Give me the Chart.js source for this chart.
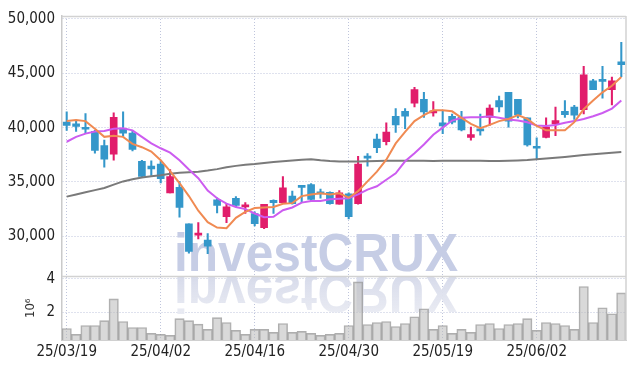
<!DOCTYPE html>
<html><head><meta charset="utf-8">
<script src="https://cdn.jsdelivr.net/npm/chart.js@4"></script>
<style>html,body{margin:0;padding:0;background:#fff;}#wrap{width:635px;height:369px;}</style>
</head><body><div id="wrap"><canvas id="c" width="635" height="369"></canvas></div>
<script>
const dates = ['25/03/19','25/03/20','25/03/21','25/03/24','25/03/25','25/03/26','25/03/27','25/03/28','25/03/31','25/04/01',
 '25/04/02','25/04/03','25/04/04','25/04/07','25/04/08','25/04/09','25/04/10','25/04/11','25/04/14','25/04/15',
 '25/04/16','25/04/17','25/04/18','25/04/21','25/04/22','25/04/23','25/04/24','25/04/25','25/04/28','25/04/29',
 '25/04/30','25/05/02','25/05/07','25/05/08','25/05/09','25/05/12','25/05/13','25/05/14','25/05/15','25/05/16',
 '25/05/19','25/05/20','25/05/21','25/05/22','25/05/23','25/05/26','25/05/27','25/05/28','25/05/29','25/05/30',
 '25/06/02','25/06/04','25/06/05','25/06/09','25/06/10','25/06/11','25/06/12','25/06/13','25/06/16','25/06/17'];
const opens = [40500,40350,39900,39650,38350,37550,39850,39500,36900,36450,
 36650,34000,34500,31150,30100,29650,33350,31800,33500,32700,
 32100,30800,33300,33100,33700,34600,34750,34050,34050,32950,
 33900,33000,37350,38950,38700,41050,41500,42250,42600,41350,
 40450,41050,40950,39100,39900,40950,42500,43250,42600,40900,
 38150,39100,40350,41500,41900,41650,44300,44400,43500,46050];
const highs = [41450,40600,41300,39750,38850,41350,41450,39650,37000,36950,
 36900,36150,35050,31150,31250,30250,33550,32950,33650,33100,
 32250,32950,33350,35500,34150,34600,34850,34350,34100,34200,
 34000,37350,37600,39400,40450,41750,41750,43700,43250,42400,
 41500,41250,41500,40050,41250,42100,42900,43250,42600,40900,
 39050,40900,41900,42500,42050,45650,44450,45650,44650,47850];
const lows = [39750,39650,39450,37650,36350,37000,39200,37850,35450,35600,
 34900,34000,31750,28450,29750,28400,32150,31250,32700,32100,
 30950,30700,32100,33050,32950,33100,33250,33500,32950,32950,
 31600,32950,36450,37700,38400,39550,39900,41900,40950,41050,
 39450,40350,39700,38850,39300,40200,41450,40050,40900,38300,
 37050,39050,39250,40950,40750,41250,43500,42700,42100,44700];
const closes = [40200,40100,39850,37900,37100,40950,39500,38000,35500,36200,
 35300,35500,32650,28600,30250,29100,32850,32700,32850,32900,
 31150,32950,33100,34450,33000,34500,33400,33900,33000,34000,
 31800,36650,37200,38150,39600,40250,41050,43500,41450,41400,
 40150,40500,39800,39350,39700,41800,41900,40600,41200,38400,
 38100,40050,40650,41200,41150,44850,43500,44250,44300,45800];
const ma5 = [40600,40700,40600,39900,39150,39250,39150,38500,38200,37800,
 37000,36000,34900,33700,32350,31300,30800,30750,31700,32250,
 32600,32650,32700,33000,33050,33700,33850,33950,33850,33950,
 33550,34150,35050,35950,37050,38550,39600,40600,41150,41600,
 41600,41500,40900,40350,39950,40250,40600,40800,41150,40800,
 40150,39750,39750,39750,40500,41700,42500,43250,43850,44650];
const ma20 = [38700,39150,39450,39650,39700,39900,39950,39750,39150,38550,
 38100,37700,37000,36150,35350,34200,33500,33000,32700,32500,
 32100,31750,31800,32400,32650,33100,33250,33250,33400,33450,
 33500,33850,34300,34600,35200,35800,36900,37650,38450,39350,
 40000,40650,40900,40950,40950,41050,40900,40750,40650,40500,
 40200,40150,40250,40450,40600,40800,41050,41350,41750,42500];
const ma60 = [33650,33850,34050,34250,34450,34750,35050,35250,35400,35520,
 35620,35750,35850,35900,35950,36050,36180,36350,36480,36580,
 36650,36750,36830,36900,36980,37050,37100,37000,36920,36880,
 36880,36880,36900,36920,36940,36950,36950,36950,36940,36930,
 36940,36950,36950,36950,36940,36930,36930,36950,36980,37020,
 37080,37150,37230,37300,37380,37470,37550,37620,37680,37750];
const volumes = [1.01,0.66,1.19,1.19,1.49,2.79,1.43,1.07,1.07,0.72,
 0.66,0.60,1.61,1.49,1.27,0.96,1.67,1.37,0.90,0.66,
 0.96,0.96,0.78,1.31,0.78,0.84,0.72,0.60,0.66,0.72,
 1.19,3.82,1.25,1.37,1.43,1.13,1.31,1.72,2.20,0.96,
 1.19,0.72,0.96,0.78,1.25,1.31,1.01,1.25,1.31,1.61,
 0.90,1.37,1.31,1.19,0.96,3.54,1.37,2.26,1.90,3.15];
const priceTicks = [30000,35000,40000,45000,50000];
const volumeTicks = [2,4];
const xTickEvery = 10;

const RED = '#e11d6b', BLUE = '#3497ca';
const candleColor = c => closes[c.dataIndex] >= opens[c.dataIndex] ? RED : BLUE;
const GRID = '#bfc5dc';
const FONT = '"Liberation Sans Narrow","DejaVu Sans Condensed",Arial,sans-serif';

const watermark = {
  id: 'wm',
  beforeDatasetsDraw(chart) {
    const ctx = chart.ctx, a = chart.chartArea;
    const text = 'investCRUX';
    ctx.save();
    ctx.font = 'bold 53px "Liberation Sans",Arial,sans-serif';
    const w = ctx.measureText(text).width;
    const sx = 284 / w;
    const cx = 316, base = 271, axis = 273;
    ctx.textAlign = 'center'; ctx.textBaseline = 'alphabetic';
    ctx.save();
    ctx.translate(cx, base); ctx.scale(sx, 1);
    ctx.fillStyle = '#c6cde5';
    ctx.fillText(text, 0, 0);
    ctx.restore();
    ctx.save();
    ctx.beginPath(); ctx.rect(a.left, chart.scales.yv.top, a.width, chart.scales.yv.height); ctx.clip();
    ctx.translate(cx, 2 * axis - base); ctx.scale(sx, -1);
    const g = ctx.createLinearGradient(0, 0, 0, -40);
    g.addColorStop(0, 'rgba(214,218,234,1)');
    g.addColorStop(1, 'rgba(232,234,242,0.9)');
    ctx.fillStyle = g;
    ctx.fillText(text, 0, 0);
    ctx.restore();
    ctx.restore();
  },
  afterDraw(chart) {
    const ctx = chart.ctx, a = chart.chartArea, yv = chart.scales.yv;
    ctx.save();
    ctx.strokeStyle = '#d2d2d2'; ctx.lineWidth = 1.5;
    ctx.beginPath();
    ctx.moveTo(a.left, a.top + 0.5); ctx.lineTo(a.right, a.top + 0.5);
    ctx.moveTo(a.right, a.top); ctx.lineTo(a.right, a.bottom);
    ctx.moveTo(a.left, yv.top); ctx.lineTo(a.right, yv.top);
    ctx.stroke();
    ctx.restore();
  }
};

new Chart(document.getElementById('c'), {
  data: {
    labels: dates,
    datasets: [
      { type: 'line', label: 'MA5', data: ma5, yAxisID: 'y', borderColor: '#f08a52', borderWidth: 2, pointRadius: 0, order: 0 },
      { type: 'line', label: 'MA20', data: ma20, yAxisID: 'y', borderColor: '#cc5cf0', borderWidth: 2, pointRadius: 0, order: 0 },
      { type: 'line', label: 'MA60', data: ma60, yAxisID: 'y', borderColor: '#7a7a7a', borderWidth: 2, pointRadius: 0, order: 0 },
      { type: 'bar', label: 'body', data: opens.map((o, i) => [Math.min(o, closes[i]), Math.max(o, closes[i])]), yAxisID: 'y',
        backgroundColor: candleColor, barThickness: 7, minBarLength: 2, grouped: false, order: 1 },
      { type: 'bar', label: 'wick', data: lows.map((l, i) => [l, highs[i]]), yAxisID: 'y',
        backgroundColor: candleColor, barThickness: 1.4, grouped: false, order: 2 },
      { type: 'bar', label: 'volume', data: volumes, yAxisID: 'yv',
        backgroundColor: 'rgba(185,185,185,0.55)', borderColor: 'rgba(140,140,140,0.7)', borderWidth: 1,
        barPercentage: 1, categoryPercentage: 1, grouped: false, order: 3 }
    ]
  },
  options: {
    responsive: false, animation: false, devicePixelRatio: 1,
    layout: { padding: { top: 12, right: 9, left: 0, bottom: 0 } },
    plugins: { legend: { display: false }, tooltip: { enabled: false } },
    scales: {
      x: {
        type: 'category', offset: true,
        grid: { offset: false, color: GRID, drawTicks: false, lineWidth: 1 },
        border: { display: true, color: '#d0d0d0', dash: [1, 2] },
        ticks: { autoSkip: false, maxRotation: 0, padding: 3, color: '#222', font: { family: FONT, size: 15 } },
        afterBuildTicks: s => { s.ticks = s.ticks.filter(t => t.value % xTickEvery === 0); },
        afterFit: s => { s.height = 29; }
      },
      yv: {
        type: 'linear', position: 'left', stack: 'pane', stackWeight: 64.3,
        min: 0.32, max: 4.14,
        grid: { color: GRID, drawTicks: false },
        border: { color: '#cacaca', width: 1.5, dash: [1, 2] },
        ticks: { padding: 7, color: '#222', font: { family: FONT, size: 15 }, callback: v => String(v) },
        afterBuildTicks: s => { s.ticks = volumeTicks.map(v => ({ value: v })); },
        title: { display: true, text: '10⁶', color: '#333', font: { family: FONT, size: 13 }, padding: { top: 23, bottom: 0 } },
        afterFit: s => { s.width = 62; }
      },
      y: {
        type: 'linear', position: 'left', stack: 'pane', stackWeight: 263.7,
        min: 26300, max: 50273,
        grid: { color: GRID, drawTicks: false },
        border: { color: '#cacaca', width: 1.5, dash: [1, 2] },
        ticks: { padding: 7, color: '#222', font: { family: FONT, size: 15 }, callback: v => v.toLocaleString('en-US') },
        afterBuildTicks: s => { s.ticks = priceTicks.map(v => ({ value: v })); },
        afterFit: s => { s.width = 62; }
      }
    }
  },
  plugins: [watermark]
});
</script>
</body></html>
